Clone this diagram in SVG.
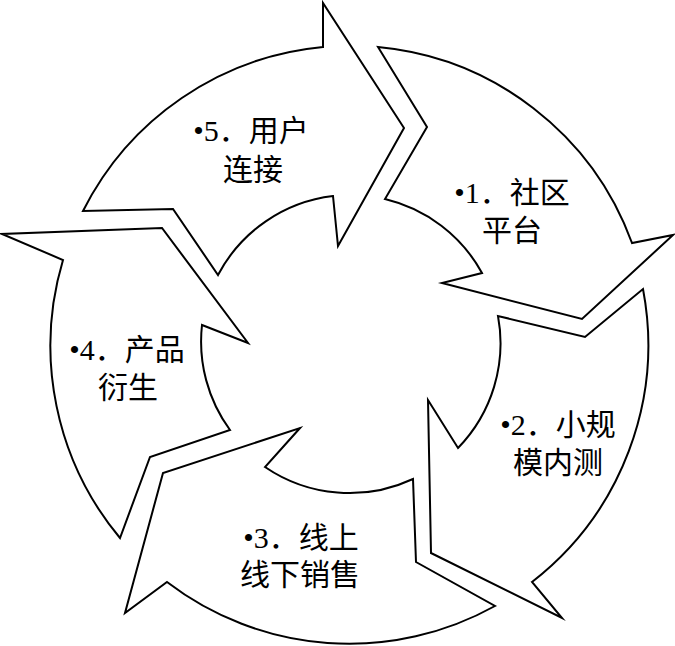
<svg xmlns="http://www.w3.org/2000/svg" width="675" height="646" viewBox="0 0 675 646">
<style>
.arrow{fill:#fff;stroke:#000;stroke-width:2;stroke-linejoin:miter;stroke-miterlimit:20}
.lbl{font-family:"Liberation Serif","Noto Sans CJK SC",serif;font-size:30px;fill:#000;text-anchor:middle}
</style>
<rect width="675" height="646" fill="#fff"/>
<g id="connectors"></g>
<g id="node1">
<path class="arrow" d="M378,47 A300,300 0 0 1 632,243 L673,235 L582,319 L442,283 L482,273 A150,150 0 0 0 385,199 L427,127 Z"/>
<text class="lbl" x="512" y="203">•1．社区</text>
<text class="lbl" x="512" y="241">平台</text>
</g>
<g id="node2">
<path class="arrow" d="M643,289 A300,300 0 0 1 532,582 L562,618 L431,553 L428,400 L458,448 A150,150 0 0 0 498,316 L585,337 Z"/>
<text class="lbl" x="558" y="435">•2．小规</text>
<text class="lbl" x="558" y="473">模内测</text>
</g>
<g id="node3">
<path class="arrow" d="M495,606 A300,300 0 0 1 167,582 L125,613 L163,473 L300,428 L265,467 A150,150 0 0 0 413,479 L416,562 Z"/>
<text class="lbl" x="301" y="548">•3．线上</text>
<text class="lbl" x="300" y="585">线下销售</text>
</g>
<g id="node4">
<path class="arrow" d="M120,538 A300,300 0 0 1 63,260 L2,234 L162,228 L248,343 L202,325 A150,150 0 0 0 230,430 L150,457 Z"/>
<text class="lbl" x="127" y="360">•4．产品</text>
<text class="lbl" x="128" y="398">衍生</text>
</g>
<g id="node5">
<path class="arrow" d="M83,211 A300,300 0 0 1 323,47 L323,3 L404,128 L338,246 L333,196 A150,150 0 0 0 218,275 L173,209 Z"/>
<text class="lbl" x="251" y="141">•5．用户</text>
<text class="lbl" x="253" y="180">连接</text>
</g>
</svg>
